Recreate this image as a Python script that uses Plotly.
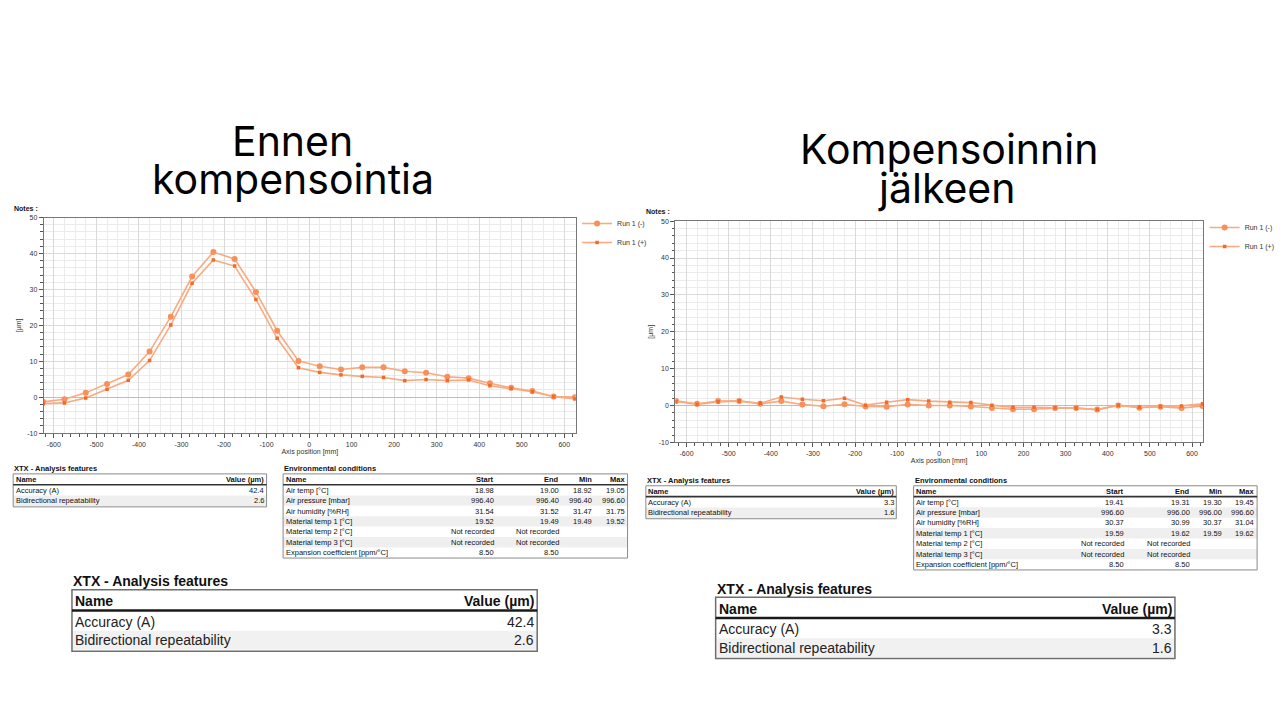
import plotly.graph_objects as go

W, H = 1280, 720
ARIAL = "Arial, Liberation Sans, sans-serif"
TITLE_FONT = "Inter, Lato, sans-serif"

# ---------------- data ----------------
positions = [-625, -575, -525, -475, -425, -375, -325, -275, -225, -175, -125, -75, -25,
             25, 75, 125, 175, 225, 275, 325, 375, 425, 475, 525, 575, 625]

before_minus = [-1.3, -0.6, 1.2, 3.7, 6.3, 12.7, 22.4, 33.6, 40.4, 38.5, 29.3, 18.5, 10.1,
                8.6, 7.7, 8.3, 8.3, 7.2, 6.8, 5.7, 5.3, 3.9, 2.6, 1.7, 0.2, 0.0]
before_plus = [-1.8, -1.6, -0.2, 2.2, 4.7, 10.2, 20.1, 31.7, 38.2, 36.5, 27.2, 16.4, 8.2,
               6.9, 6.2, 5.8, 5.5, 4.6, 4.9, 4.6, 4.8, 3.2, 2.4, 1.5, 0.1, -0.5]

after_minus = [1.25, 0.5, 1.2, 1.25, 0.45, 1.2, 0.3, -0.2, 0.35, -0.25, -0.35, 0.3, 0.0,
               0.0, -0.25, -0.7, -1.0, -1.0, -0.7, -0.7, -1.1, 0.0, -0.6, -0.35, -0.7, -0.1]
after_plus = [1.1, 0.3, 1.0, 1.2, 0.6, 2.3, 1.7, 1.3, 2.0, 0.1, 0.9, 1.6, 1.2,
              0.9, 0.8, 0.1, -0.5, -0.5, -0.6, -0.7, -1.1, 0.1, -0.45, -0.25, -0.1, 0.5]

series_names = ["Run 1 (-)", "Run 1 (+)"]

x_tickvals = [-600, -500, -400, -300, -200, -100, 0, 100, 200, 300, 400, 500, 600]
x_ticktext = ["-600", "-500", "-400", "-300", "-200", "-100", "0", "100", "200", "300", "400", "500", "600"]
y_tickvals = [-10, 0, 10, 20, 30, 40, 50]
y_ticktext = ["-10", "0", "10", "20", "30", "40", "50"]

titles_before = ["Ennen", "kompensointia"]
titles_after = ["Kompensoinnin", "jälkeen"]

feat_names = ["Accuracy (A)", "Bidirectional repeatability"]
feat_before = ["42.4", "2.6"]
feat_after = ["3.3", "1.6"]

env_names = ["Air temp [°C]", "Air pressure [mbar]", "Air humidity [%RH]", "Material temp 1 [°C]",
             "Material temp 2 [°C]", "Material temp 3 [°C]", "Expansion coefficient [ppm/°C]"]
env_cols = ["Start", "End", "Min", "Max"]
env_before = {
    "Start": ["18.98", "996.40", "31.54", "19.52", "Not recorded", "Not recorded", "8.50"],
    "End": ["19.00", "996.40", "31.52", "19.49", "Not recorded", "Not recorded", "8.50"],
    "Min": ["18.92", "996.40", "31.47", "19.49", "", "", ""],
    "Max": ["19.05", "996.60", "31.75", "19.52", "", "", ""],
}
env_after = {
    "Start": ["19.41", "996.60", "30.37", "19.59", "Not recorded", "Not recorded", "8.50"],
    "End": ["19.31", "996.00", "30.99", "19.62", "Not recorded", "Not recorded", "8.50"],
    "Min": ["19.30", "996.00", "30.37", "19.59", "", "", ""],
    "Max": ["19.45", "996.60", "31.04", "19.62", "", "", ""],
}

# ---------------- styles ----------------
LINE_COL = "#f8ab80"
MARK_MINUS = "#f7905a"
MARK_PLUS = "#f06a2a"


def px(x):
    return x / W


def py(y):
    return 1 - y / H


fig = go.Figure()

for xa, ya, lg, ym, yp in [("x", "y", "legend", before_minus, before_plus),
                            ("x2", "y2", "legend2", after_minus, after_plus)]:
    fig.add_trace(go.Scatter(x=positions, y=ym, name=series_names[0], mode="lines+markers",
                             line=dict(color=LINE_COL, width=1.6),
                             marker=dict(symbol="circle", size=6, color=MARK_MINUS),
                             xaxis=xa, yaxis=ya, legend=lg))
    fig.add_trace(go.Scatter(x=positions, y=yp, name=series_names[1], mode="lines+markers",
                             line=dict(color=LINE_COL, width=1.6),
                             marker=dict(symbol="square", size=3.5, color=MARK_PLUS),
                             xaxis=xa, yaxis=ya, legend=lg))

# invisible traces for the minor-tick overlay axes
fig.add_trace(go.Scatter(x=[None], y=[None], xaxis="x3", yaxis="y", showlegend=False, hoverinfo="skip"))
fig.add_trace(go.Scatter(x=[None], y=[None], xaxis="x4", yaxis="y2", showlegend=False, hoverinfo="skip"))

tickfont = dict(family=ARIAL, size=7, color="#333333")


def xaxis_cfg(dom, rng):
    return dict(domain=dom, range=rng, tickmode="array", tickvals=x_tickvals, ticktext=x_ticktext,
                showgrid=True, gridcolor="#dadada", gridwidth=1,
                minor=dict(tickmode="linear", tick0=0, dtick=25, showgrid=True, gridcolor="#ebebeb", ticks=""),
                ticks="outside", ticklen=4, tickcolor="#555555", tickfont=tickfont,
                showline=True, mirror=True, linecolor="#777777", linewidth=1.2, zeroline=False,
                title=dict(text="Axis position [mm]", font=dict(family=ARIAL, size=7, color="#333333"), standoff=2))


def yaxis_cfg(dom):
    return dict(domain=dom, range=[-10, 50], tickmode="array", tickvals=y_tickvals, ticktext=y_ticktext,
                showgrid=True, gridcolor="#dadada", gridwidth=1,
                minor=dict(tickmode="linear", tick0=0, dtick=2, showgrid=True, gridcolor="#ebebeb",
                           ticks="outside", ticklen=2.5, tickcolor="#555555"),
                ticks="outside", ticklen=4, tickcolor="#555555", tickfont=tickfont,
                showline=True, mirror=True, linecolor="#777777", linewidth=1.2,
                zeroline=True, zerolinecolor="#bdbdbd", zerolinewidth=1,
                title=dict(text="[µm]", font=dict(family=ARIAL, size=7, color="#333333"), standoff=4))


def overlay_cfg(rng, over, anchor):
    return dict(range=rng, overlaying=over, anchor=anchor, side="bottom", tickmode="linear", tick0=0, dtick=20,
                ticks="outside", ticklen=2.5, tickcolor="#555555", showticklabels=False,
                showgrid=False, zeroline=False, showline=False)


L_dom_x = [44.3 / W, 581.7 / W]
L_dom_y = [py(433.3), py(215.7)]
R_dom_x = [682.3 / W, 1215.3 / W]
R_dom_y = [py(442.7), py(219.3)]
L_rng = [-623.5, 627]
R_rng = [-626.5, 626]

annotations = []
shapes = []


def text(x, y, s, size, bold=False, anchor="left", color="#111111", family=ARIAL):
    annotations.append(dict(x=px(x), y=py(y), xref="paper", yref="paper",
                            text=f"<b>{s}</b>" if bold else s, showarrow=False,
                            xanchor=anchor, yanchor="middle", borderpad=0,
                            font=dict(size=size, color=color, family=family)))


def rect(x0, y0, x1, y1, fill=None, line_color=None, width=1):
    shapes.append(dict(type="rect", xref="paper", yref="paper", x0=px(x0), x1=px(x1), y0=py(y1), y1=py(y0),
                       fillcolor=fill if fill else "rgba(0,0,0,0)",
                       line=dict(color=line_color if line_color else "rgba(0,0,0,0)", width=width if line_color else 0),
                       layer="below"))


def hline(x0, x1, y, color, width):
    shapes.append(dict(type="line", xref="paper", yref="paper", x0=px(x0), x1=px(x1), y0=py(y), y1=py(y),
                       line=dict(color=color, width=width)))


# ---------------- slide titles ----------------
text(296, 138, titles_before[0], 41, anchor="center", color="#000000", family=TITLE_FONT)
text(296, 177, titles_before[1], 41, anchor="center", color="#000000", family=TITLE_FONT)
text(959, 146, titles_after[0], 41, anchor="center", color="#000000", family=TITLE_FONT)
text(957, 186, titles_after[1], 41, anchor="center", color="#000000", family=TITLE_FONT)

# Notes labels
text(13, 207, "Notes :", 7, bold=True)
text(652, 210, "Notes :", 7, bold=True)


# ---------------- small report tables ----------------
def feat_table(x0, x1, ytitle, vals, size=7.5):
    top = ytitle + 5
    text(x0, ytitle, "XTX - Analysis features", size, bold=True)
    rows_y = [top + 16.5, top + 27.3]
    rect(x0, rows_y[1] - 5.4, x1, rows_y[1] + 5.4, fill="#efefef")
    rect(x0, top, x1, top + 33.3, line_color="#8a8a8a", width=1)
    text(x0 + 1.5, top + 6, "Name", size, bold=True)
    text(x1 - 1.5, top + 6, "Value (µm)", size, bold=True, anchor="right")
    hline(x0, x1, top + 11, "#333333", 1.6)
    for i in range(2):
        text(x0 + 1.5, rows_y[i], feat_names[i], size)
        text(x1 - 1.5, rows_y[i], vals[i], size, anchor="right")


def env_table(x0, x1, ytitle, data, size=7.5):
    top = ytitle + 5
    text(x0, ytitle, "Environmental conditions", size, bold=True)
    step = 10.5
    first = top + 16.5
    col_right = [x0 + 214, x0 + 280, x0 + 313, x1 - 2]
    for i in range(len(env_names)):
        if i % 2 == 1:
            yy = first + i * step
            rect(x0, yy - step / 2, x1, yy + step / 2, fill="#efefef")
    bottom = first + (len(env_names) - 1) * step + 5.5
    rect(x0, top, x1, bottom, line_color="#8a8a8a", width=1)
    text(x0 + 1.5, top + 6, "Name", size, bold=True)
    for c, xr in zip(env_cols, col_right):
        text(xr, top + 6, c, size, bold=True, anchor="right")
    hline(x0, x1, top + 11, "#333333", 1.6)
    for i, nm in enumerate(env_names):
        yy = first + i * step
        text(x0 + 1.5, yy, nm, size)
        for c, xr in zip(env_cols, col_right):
            if data[c][i]:
                text(xr, yy, data[c][i], size, anchor="right")


feat_table(13.3, 269.3, 469.5, feat_before)
env_table(286, 634, 469.5, env_before)
feat_table(652.5, 905.5, 481.5, feat_after)
env_table(923, 1270, 481.5, env_after)


# ---------------- enlarged feature tables ----------------
def big_table(x0, x1, ytitle, vals):
    size = 14
    top = ytitle + 8.5
    text(x0, ytitle, "XTX - Analysis features", size, bold=True)
    r1 = top + 32.5
    r2 = top + 51
    rect(x0, r2 - 9.5, x1, r2 + 9.5, fill="#f1f1f1")
    rect(x0, top, x1, top + 62, line_color="#6e6e6e", width=1.5)
    text(x0 + 2, top + 11.5, "Name", size, bold=True)
    text(x1 - 2, top + 11.5, "Value (µm)", size, bold=True, anchor="right")
    hline(x0, x1, top + 21, "#1a1a1a", 2.5)
    for yy, nm, v in zip([r1, r2], feat_names, vals):
        text(x0 + 2, yy, nm, size, color="#222222")
        text(x1 - 2, yy, v, size, anchor="right", color="#222222")


big_table(72.7, 542.7, 583, feat_before)
big_table(723, 1187, 590.5, feat_after)

legend_common = dict(font=dict(family=ARIAL, size=7, color="#333333"), bgcolor="rgba(0,0,0,0)",
                     xanchor="left", yanchor="top", tracegroupgap=0, itemwidth=30)

fig.update_layout(
    width=W, height=H, autosize=False,
    margin=dict(l=0, r=0, t=0, b=0),
    paper_bgcolor="white", plot_bgcolor="white",
    xaxis=xaxis_cfg(L_dom_x, L_rng),
    yaxis=yaxis_cfg(L_dom_y),
    xaxis2=dict(xaxis_cfg(R_dom_x, R_rng), anchor="y2"),
    yaxis2=dict(yaxis_cfg(R_dom_y), anchor="x2"),
    xaxis3=overlay_cfg(L_rng, "x", "y"),
    xaxis4=overlay_cfg(R_rng, "x2", "y2"),
    legend=dict(legend_common, x=px(583), y=py(207)),
    legend2=dict(legend_common, x=px(1217), y=py(211)),
    annotations=annotations,
    shapes=shapes,
    hovermode=False,
)

fig.write_html("out.html")
